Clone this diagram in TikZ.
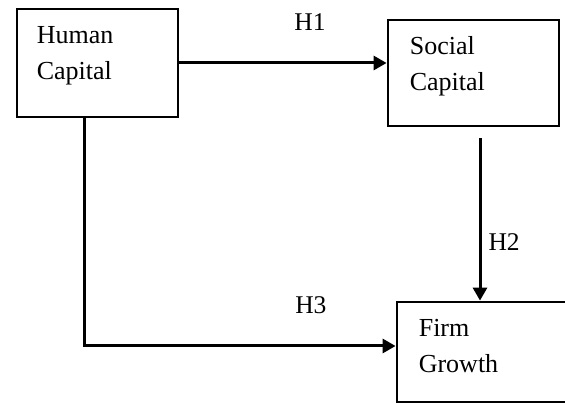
\documentclass[tikz,border=0pt]{standalone}
\usepackage{fontspec}
\setmainfont{Liberation Serif}
\usetikzlibrary{arrows.meta}
\tikzset{
  var box/.style={draw, line width=2.8pt, inner sep=0pt},
  var text/.style={anchor=north west, inner sep=0pt, align=left,
    font=\fontsize{26}{36}\selectfont},
  hyp arrow/.style={-{Triangle[length=13pt, width=14pt]}, line width=3pt},
  hyp label/.style={inner sep=0pt, font=\fontsize{25.5}{30}\selectfont}
}

\begin{document}
\begin{tikzpicture}[x=1pt, y=-1pt]
    \path[use as bounding box, clip] (0,0) rectangle (565,403);

    % Boxes
    \node[var box, minimum width=161pt, minimum height=108pt] (hc) at (97.5,63) {};
    \node[var box, minimum width=171pt, minimum height=106pt] (sc) at (473.5,73) {};
    \node[var box, minimum width=175pt, minimum height=100pt] (fg) at (484.5,352) {};

    % Box texts
    \node[var text] (hctext) at ([shift={(21,19)}]hc.north west) {Human\\Capital};
    \node[var text] (sctext) at ([shift={(23,18)}]sc.north west) {Social\\Capital};
    \node[var text] (fgtext) at ([shift={(23,18.75)}]fg.north west) {Firm\\Growth};

    % Hypotheses
    \draw[hyp arrow] (hc.east) -- (hc.east -| sc.west)
        node[hyp label, pos=0.63, above=31pt] (h1) {H1};
    \coordinate (h2start) at ([shift={(6.5,11)}]sc.south);
    \draw[hyp arrow] (h2start) -- (h2start |- fg.north)
        node[hyp label, pos=0.64, right=7pt] (h2) {H2};
    \draw[hyp arrow] ([shift={(-13.5,0)}]hc.south) |- ([shift={(0,-6)}]fg.west)
        node[hyp label, pos=0.864, above=31pt] (h3) {H3};
\end{tikzpicture}
\end{document}
